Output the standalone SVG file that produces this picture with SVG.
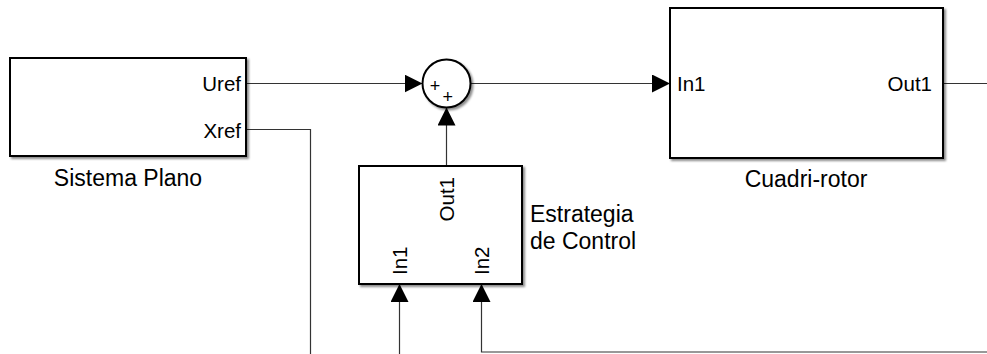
<svg xmlns="http://www.w3.org/2000/svg" width="987" height="354" viewBox="0 0 987 354">
<style>
.blk{fill:#fff;stroke:#000;stroke-width:2;filter:url(#sh)}
.port{font-family:"Liberation Sans",Arial,sans-serif;font-size:20.5px;fill:#000}
.lbl{font-family:"Liberation Sans",Arial,sans-serif;font-size:23px;fill:#000}
.sgn{font-family:"Liberation Sans",Arial,sans-serif;font-size:18px;fill:#000;text-anchor:middle}
.wire{fill:none;stroke:#333;stroke-width:1.2}
</style>
<defs>
<filter id="sh" x="-10%" y="-10%" width="130%" height="130%">
<feDropShadow dx="2" dy="2" stdDeviation="1.3" flood-color="#000" flood-opacity="0.45"/>
</filter>
<marker id="ah" markerUnits="userSpaceOnUse" markerWidth="18" markerHeight="18" refX="18" refY="9" orient="auto">
<path d="M0,0 L18,9 L0,18 Z" fill="#000"/>
</marker>
</defs>
<rect width="987" height="354" fill="#fff"/>
<g id="connectors">
<path class="wire" d="M246,83.5 H422.5" marker-end="url(#ah)"/>
<path class="wire" d="M470.5,83.5 H670" marker-end="url(#ah)"/>
<path class="wire" d="M943,83.5 H987"/>
<path class="wire" d="M246,129.5 H310.5 V354"/>
<path class="wire" d="M446.5,166 V107.5" marker-end="url(#ah)"/>
<path class="wire" d="M399.5,354 V284" marker-end="url(#ah)"/>
<path class="wire" d="M987,352 H481.5 V284" marker-end="url(#ah)"/>
</g>
<g id="sistema-plano">
<rect class="blk" x="10" y="58" width="236" height="98"/>
<text class="port" x="241" y="91" text-anchor="end">Uref</text>
<text class="port" x="241" y="137.5" text-anchor="end">Xref</text>
<text class="lbl" x="128" y="186" text-anchor="middle">Sistema Plano</text>
</g>
<g id="sum">
<circle class="blk" cx="446.5" cy="83.5" r="24"/>
<text class="sgn" x="435" y="92">+</text>
<text class="sgn" x="447.7" y="103">+</text>
</g>
<g id="cuadri-rotor">
<rect class="blk" x="670" y="8" width="273" height="150"/>
<text class="port" x="677" y="91">In1</text>
<text class="port" x="932" y="91" text-anchor="end">Out1</text>
<text class="lbl" x="806" y="187" text-anchor="middle">Cuadri-rotor</text>
</g>
<g id="estrategia-de-control">
<rect class="blk" x="359" y="166" width="163" height="118"/>
<text class="port" transform="translate(453.5,177) rotate(-90)" text-anchor="end">Out1</text>
<text class="port" transform="translate(406.5,275) rotate(-90)">In1</text>
<text class="port" transform="translate(489,275) rotate(-90)">In2</text>
<text class="lbl" x="530" y="222">Estrategia</text>
<text class="lbl" x="530" y="248.5">de Control</text>
</g>
</svg>
